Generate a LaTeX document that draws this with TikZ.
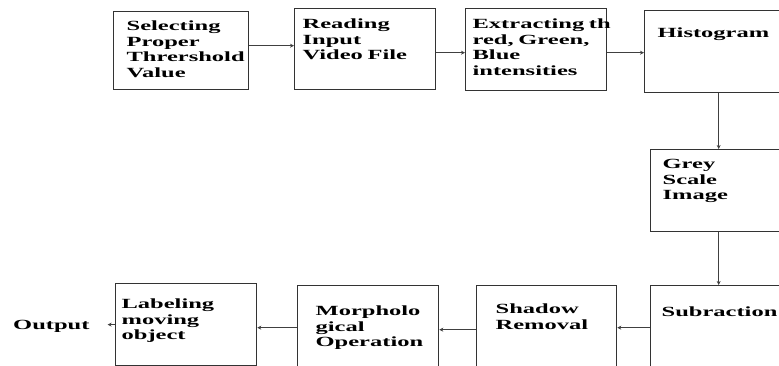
\documentclass[tikz,border=0pt]{standalone}
\usepackage{fontspec}
\setmainfont{Liberation Serif}[FakeStretch=1.75]
\usetikzlibrary{arrows.meta}
\begin{document}
\begin{tikzpicture}[x=1pt, y=-1pt,
  block/.style={rectangle, draw=black!80, line width=1.3pt, anchor=north west, align=left, inner ysep=0pt,
    font=\fontsize{14}{15.5}\selectfont\bfseries},
  flow/.style={draw=black!75, line width=1.1pt, -{Stealth[length=4pt, width=4pt]}}]
\useasboundingbox (0,0) rectangle (779,365);
\clip (0,0) rectangle (779,365);
\node at (113, 11) (select)  [block, inner xsep=13pt, text width=109pt, text height=19pt, text depth=59pt] {Selecting\\Proper\\Thrershold\\Value};
\node at (294, 8)  (read)    [block, inner xsep=8pt, text width=125pt, text height=20pt, text depth=61pt] {Reading\\Input\\Video File};
\node at (465, 8)  (extract) [block, inner xsep=7pt, text width=127pt, text height=20pt, text depth=62pt] {Extracting~th\\red, Green,\\Blue\\intensities};
\node at (644, 10) (hist)    [block, inner xsep=13pt, text width=115pt, text height=27pt, text depth=55pt] {Histogram};
\node at (650, 149) (grey)   [block, inner xsep=12pt, text width=117pt, text height=19pt, text depth=63pt] {Grey\\Scale\\Image};
\node at (650, 285) (sub)    [block, inner xsep=11pt, text width=119pt, text height=31pt, text depth=51pt] {Subraction};
\node at (476, 285) (shadow) [block, inner xsep=19pt, text width=102pt, text height=28pt, text depth=54pt] {Shadow\\Removal};
\node at (297, 285) (morph)  [block, inner xsep=18pt, text width=105pt, text height=30pt, text depth=52pt] {Morpholo\\gical\\Operation};
\node at (115, 283) (label)  [block, inner xsep=6pt, text width=129pt, text height=25pt, text depth=57pt] {Labeling\\moving\\object};
\node at (13, 329) (out) [anchor=base west, inner xsep=0pt, font=\fontsize{14}{15.5}\selectfont\bfseries] {Output};
% connectors
\draw [flow] ([yshift=5pt]select.east) -- ([yshift=5pt]select.east -| read.west);
\draw [flow] ([yshift=-3.5pt]read.east) -- ([yshift=-3.5pt]read.east -| extract.west);
\draw [flow] ([yshift=-3pt]extract.east) -- ([yshift=-3pt]extract.east -| hist.west);
\draw [flow] ([xshift=3.5pt]hist.south) -- ([xshift=3.5pt]hist.south |- grey.north);
\draw [flow] ([xshift=-2.5pt]grey.south) -- ([xshift=-2.5pt]grey.south |- sub.north);
\draw [flow] ([yshift=-1pt]sub.west) -- ([yshift=-1pt]sub.west -| shadow.east);
\draw [flow] ([yshift=-3pt]shadow.west) -- ([yshift=-3pt]shadow.west -| morph.east);
\draw [flow] ([yshift=-1pt]morph.west) -- ([yshift=-1pt]morph.west -| label.east);
\draw [flow, shorten >=18pt] (label.west) -- (label.west -| out.east);
\end{tikzpicture}
\end{document}
